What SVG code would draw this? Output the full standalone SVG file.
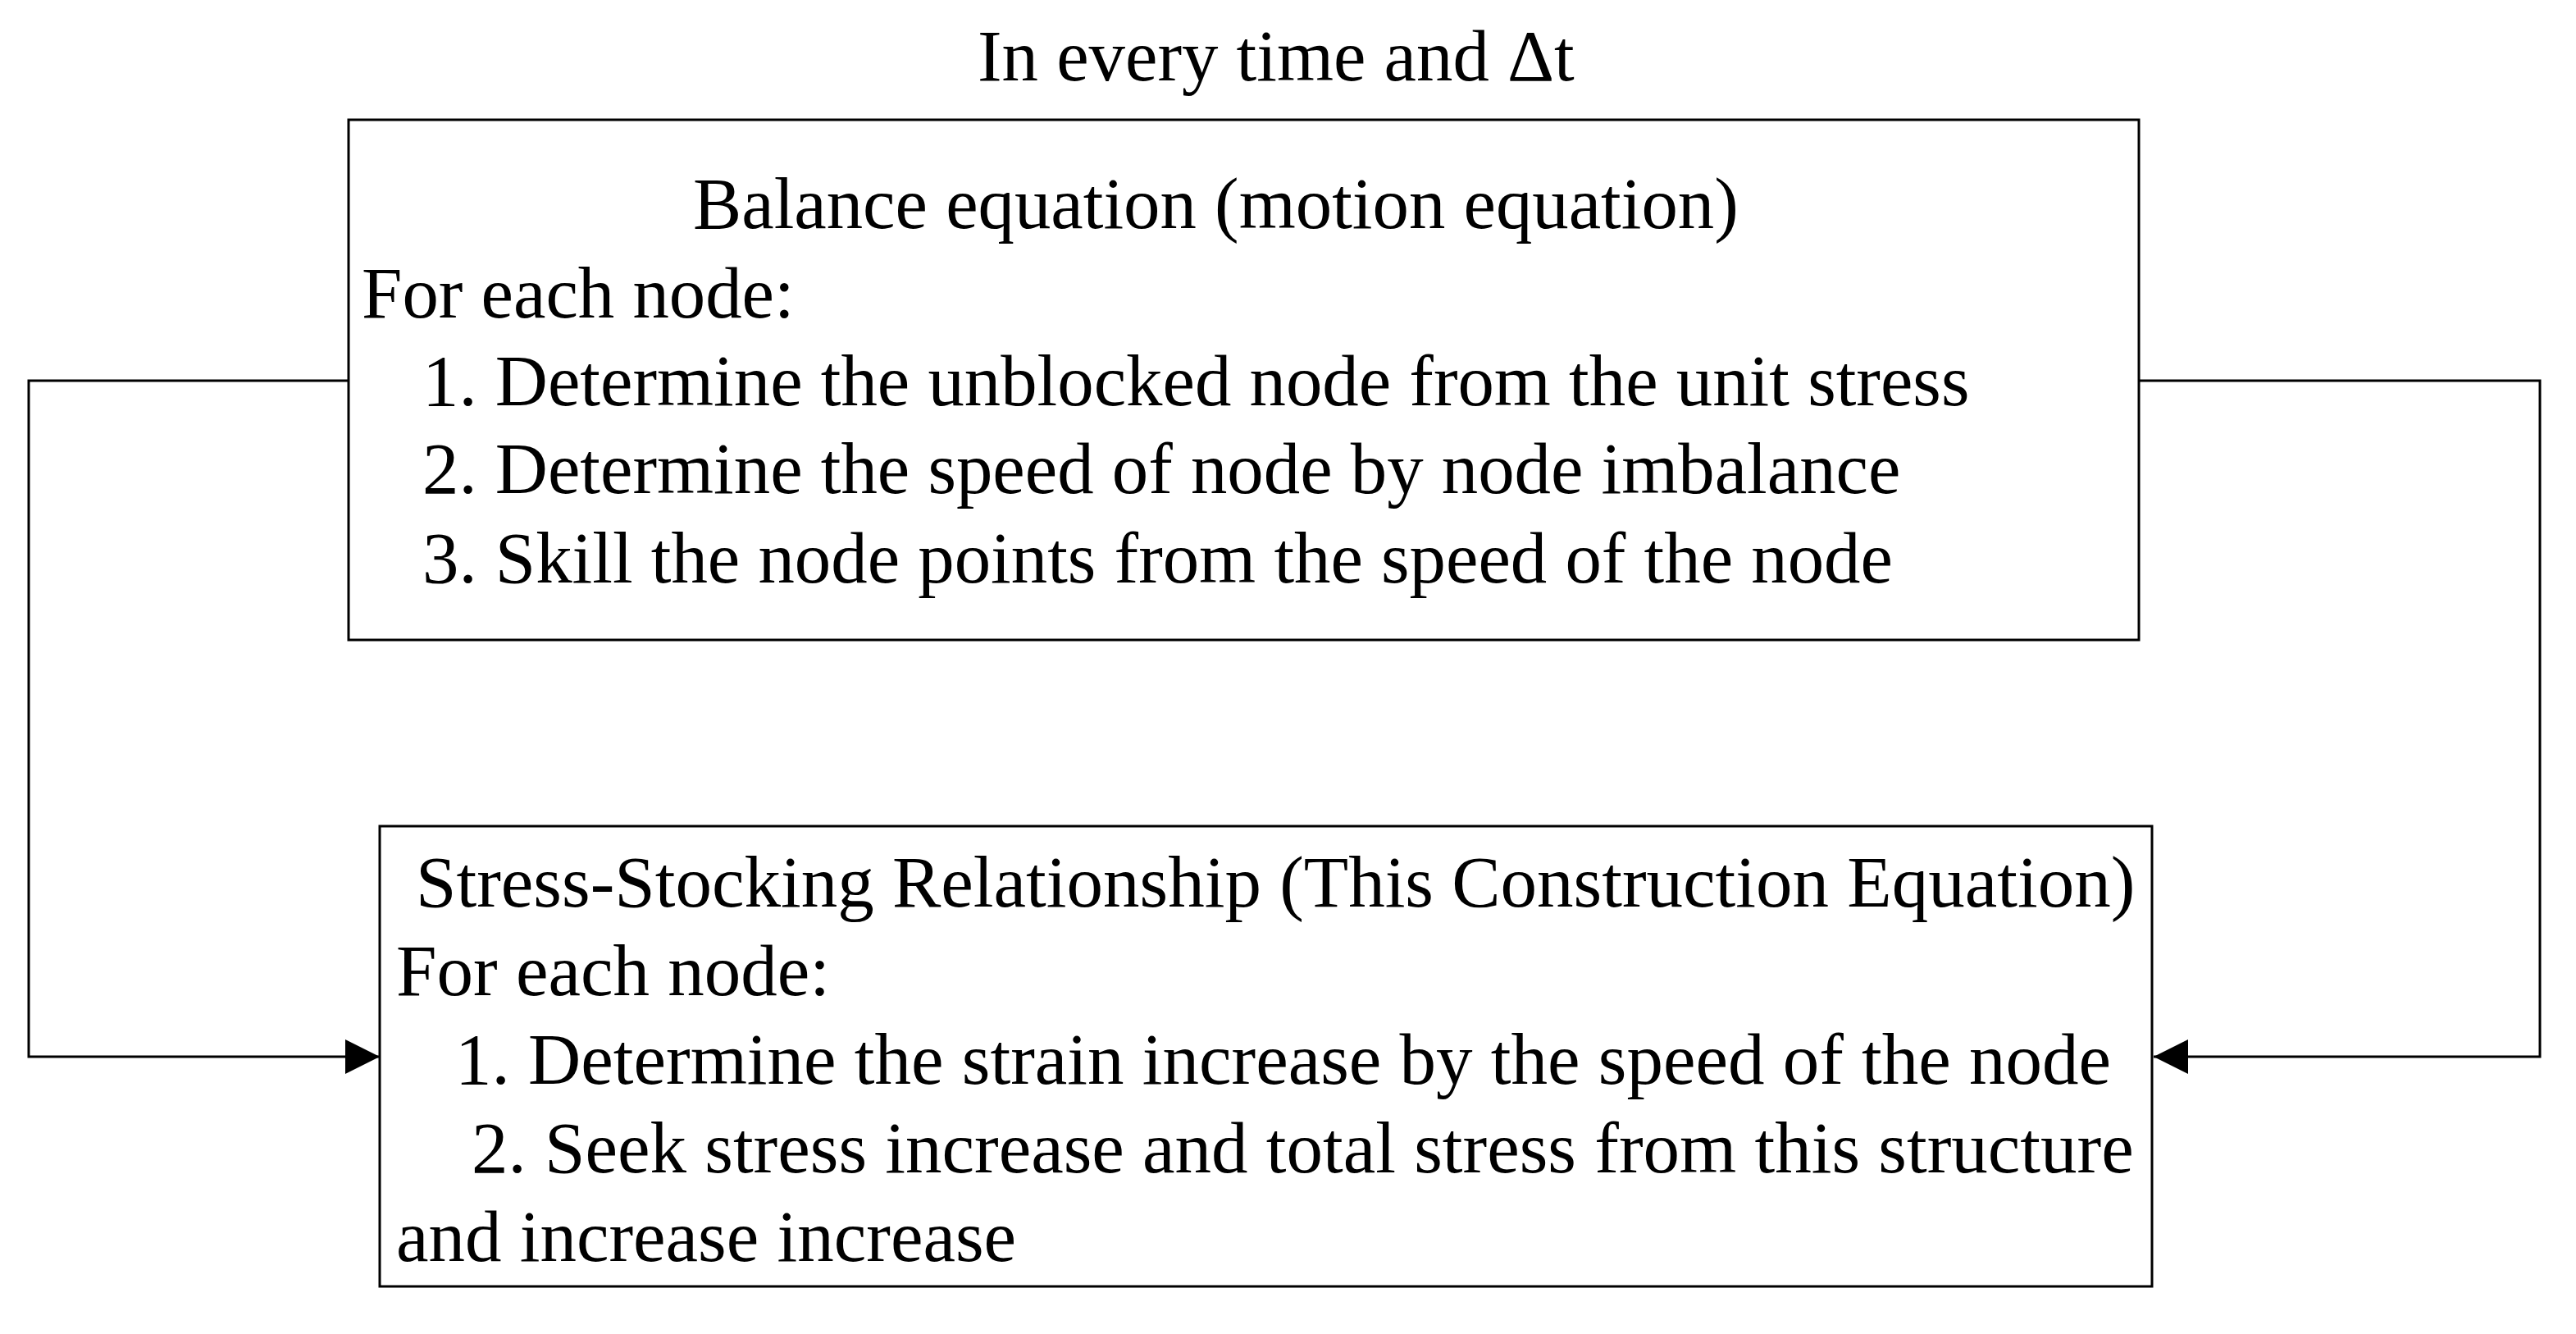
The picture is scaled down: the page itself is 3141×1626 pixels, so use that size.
<svg xmlns="http://www.w3.org/2000/svg" width="3141" height="1626" viewBox="0 0 3141 1626">
<style>
text{font-family:"Liberation Serif","Times New Roman",serif;font-size:88.8px;fill:#000}
#node-stress text{font-size:89px}
.box{fill:#fff;stroke:#000;stroke-width:3}
.conn{fill:none;stroke:#000;stroke-width:3}
</style>
<defs>
<marker id="arr" markerUnits="userSpaceOnUse" markerWidth="42" markerHeight="42" refX="42" refY="21" orient="auto">
<path d="M0,0 L42,21 L0,42 Z" fill="#000"/>
</marker>
</defs>
<rect width="3141" height="1626" fill="#fff"/>
<text id="title" x="1192" y="98">In every time and Δt</text>
<g id="connectors">
<polyline class="conn" points="425,464 35,464 35,1288 463,1288" marker-end="url(#arr)"/>
<polyline class="conn" points="2608,464 3097,464 3097,1288 2626,1288" marker-end="url(#arr)"/>
</g>
<g id="node-balance">
<rect class="box" x="425" y="146" width="2183" height="634"/>
<text x="845" y="278">Balance equation (motion equation)</text>
<text x="441" y="387">For each node:</text>
<text x="515" y="494">1. Determine the unblocked node from the unit stress</text>
<text x="515" y="601">2. Determine the speed of node by node imbalance</text>
<text x="515" y="710">3. Skill the node points from the speed of the node</text>
</g>
<g id="node-stress">
<rect class="box" x="463" y="1007" width="2161" height="561"/>
<text x="507" y="1105">Stress-Stocking Relationship (This Construction Equation)</text>
<text x="483" y="1213">For each node:</text>
<text x="555" y="1321">1. Determine the strain increase by the speed of the node</text>
<text x="575" y="1429">2. Seek stress increase and total stress from this structure</text>
<text x="483" y="1537">and increase increase</text>
</g>
</svg>
